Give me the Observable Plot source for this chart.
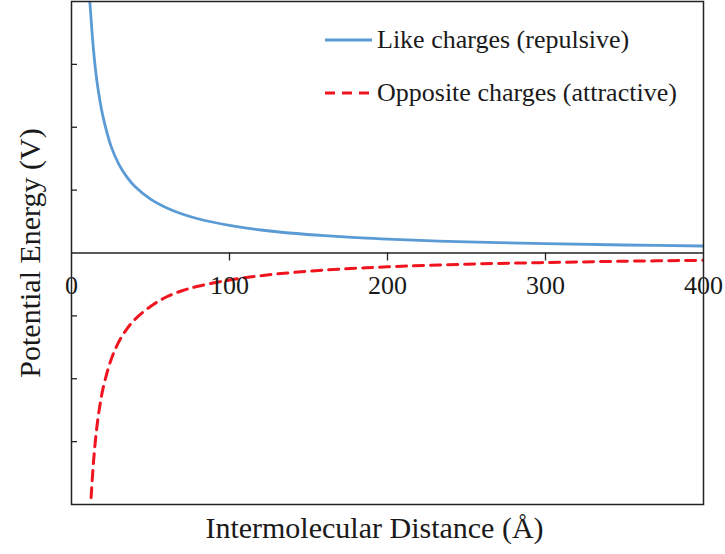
<!DOCTYPE html>
<html>
<head>
<meta charset="utf-8">
<script src="https://cdn.jsdelivr.net/npm/d3@7"></script>
<script src="https://cdn.jsdelivr.net/npm/@observablehq/plot@0.6"></script>
<style>
  html, body { margin: 0; padding: 0; background: #fff; }
  #wrap { position: relative; width: 725px; height: 554px; font-family: "Liberation Serif", "DejaVu Serif", serif; }
  #legend { position: absolute; left: 325px; top: 22px; color: #1a1a1a; font-size: 26px; font-family: "Liberation Serif", serif; }
  .row { display: flex; align-items: center; height: 36px; white-space: nowrap; }
  .row + .row { margin-top: 17px; }
  .row svg { margin-right: 5px; }
</style>
</head>
<body>
<div id="wrap"><div id="legend"></div></div>
<script>
// Data
const seriesNames = ["Like charges (repulsive)", "Opposite charges (attractive)"];
const repulsiveDistance = [11.6, 14, 16, 18, 20, 25, 30, 35, 40, 50, 60, 70, 80, 100, 120, 140, 160, 180, 200, 250, 300, 350, 400];
const repulsiveEnergy   = [4.0, 3.21, 2.75, 2.42, 2.16, 1.70, 1.41, 1.21, 1.06, 0.856, 0.72, 0.62, 0.545, 0.44, 0.366, 0.314, 0.275, 0.245, 0.22, 0.177, 0.148, 0.127, 0.111];
const attractiveDistance = [12.4, 14, 16, 18, 20, 25, 30, 35, 40, 50, 60, 70, 80, 100, 120, 140, 160, 180, 200, 250, 300, 350, 400];
const attractiveEnergy   = [-3.89, -3.3, -2.78, -2.42, -2.15, -1.7, -1.41, -1.21, -1.06, -0.85, -0.70, -0.60, -0.53, -0.43, -0.36, -0.31, -0.272, -0.243, -0.22, -0.178, -0.152, -0.131, -0.116];
const xTicks = [0, 100, 200, 300, 400];
const yTicks = [-3, -2, -1, 1, 2, 3];
const xLabel = "Intermolecular Distance (Å)";
const yLabel = "Potential Energy (V)";

const blue = "#5b9bd5";
const red = "#f0141e";
const font = "Liberation Serif";

const repulsive = repulsiveDistance.map((d, i) => ({d, v: repulsiveEnergy[i]}));
const attractive = attractiveDistance.map((d, i) => ({d, v: attractiveEnergy[i]}));

const chart = Plot.plot({
  width: 725,
  height: 554,
  marginLeft: 71,
  marginRight: 22,
  marginTop: 1,
  marginBottom: 50,
  x: {domain: [0, 400], axis: null},
  y: {domain: [-4, 4], axis: null},
  style: {fontFamily: font, background: "white", color: "#1a1a1a"},
  marks: [
    Plot.ruleY([0], {stroke: "#222", strokeWidth: 1.3}),
    Plot.ruleX(xTicks.slice(1, -1), {x: d => d, y1: 0, y2: 0, insetBottom: -8, stroke: "#222", strokeWidth: 1.3}),
    Plot.ruleY(yTicks, {y: d => d, x1: 0, x2: 0, insetRight: -6, stroke: "#222", strokeWidth: 1.3}),
    Plot.line(repulsive, {x: "d", y: "v", stroke: blue, strokeWidth: 2.8, curve: "catmull-rom", clip: true}),
    Plot.line(attractive, {x: "d", y: "v", stroke: red, strokeWidth: 3, strokeDasharray: "10,7", curve: "catmull-rom", clip: true}),
    Plot.text(xTicks, {x: d => d, y: 0, dy: 33, text: d => String(d), fontSize: 26, fill: "#1a1a1a", lineAnchor: "middle"}),
    Plot.frame({stroke: "#222", strokeWidth: 1.5}),
    Plot.text([xLabel], {frameAnchor: "bottom", dx: -13, dy: 24, lineAnchor: "middle", fontSize: 30, fill: "#1a1a1a"}),
    Plot.text([yLabel], {frameAnchor: "left", dx: -41, rotate: -90, textAnchor: "middle", lineAnchor: "middle", fontSize: 30, fill: "#1a1a1a"})
  ]
});
const wrap = document.getElementById("wrap");
wrap.insertBefore(chart, wrap.firstChild);

const legend = document.getElementById("legend");
const styles = [{stroke: blue, width: 2.8, dash: null}, {stroke: red, width: 3, dash: "10,7"}];
seriesNames.forEach((name, i) => {
  const row = document.createElement("div");
  row.className = "row";
  const s = styles[i];
  row.innerHTML = `<svg width="47" height="10"><line x1="0" x2="47" y1="5" y2="5" stroke="${s.stroke}" stroke-width="${s.width}" ${s.dash ? `stroke-dasharray="${s.dash}"` : ""}/></svg><span>${name}</span>`;
  legend.appendChild(row);
});
</script>
</body>
</html>
